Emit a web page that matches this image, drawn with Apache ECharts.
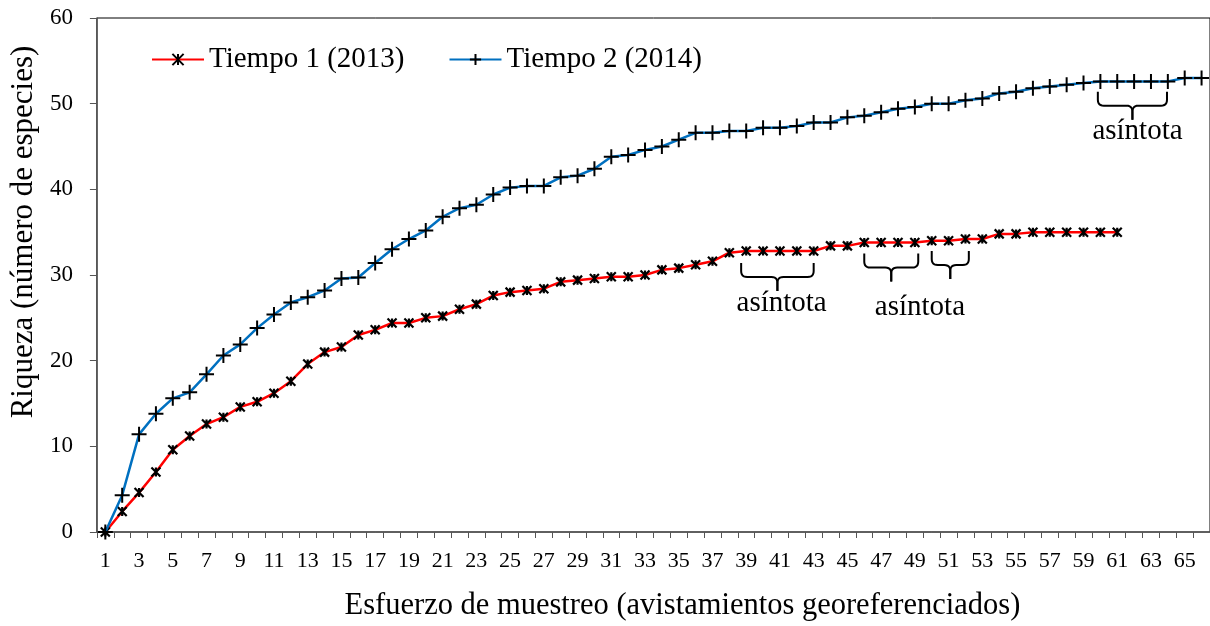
<!DOCTYPE html>
<html>
<head>
<meta charset="utf-8">
<script src="https://cdn.jsdelivr.net/npm/echarts@6/dist/echarts.min.js"></script>
<style>
  html, body { margin: 0; padding: 0; background: #fff; }
  #chart { width: 1210px; height: 626px; }
</style>
</head>
<body>
<div id="chart"></div>
<script>
  // sampling effort 1..66
  const categories = Array.from({length: 66}, (_, i) => String(i + 1));

  const tiempo1 = [
    0, 2.4, 4.6, 7.0, 9.6, 11.2, 12.6, 13.4, 14.6, 15.2,
    16.2, 17.6, 19.6, 21.0, 21.6, 23.0, 23.6, 24.4, 24.4, 25.0,
    25.2, 26.0, 26.6, 27.6, 28.0, 28.2, 28.4, 29.2, 29.4, 29.6,
    29.8, 29.8, 30.0, 30.6, 30.8, 31.2, 31.6, 32.6, 32.8, 32.8,
    32.8, 32.8, 32.8, 33.4, 33.4, 33.8, 33.8, 33.8, 33.8, 34.0,
    34.0, 34.2, 34.2, 34.8, 34.8, 35.0, 35.0, 35.0, 35.0, 35.0,
    35.0
  ];

  const tiempo2 = [
    0, 4.3, 11.4, 13.8, 15.6, 16.3, 18.4, 20.6, 21.9, 23.8,
    25.4, 26.8, 27.4, 28.2, 29.6, 29.7, 31.4, 33.0, 34.2, 35.2,
    36.8, 37.8, 38.2, 39.4, 40.2, 40.4, 40.4, 41.4, 41.6, 42.4,
    43.8, 44.0, 44.6, 45.0, 45.8, 46.6, 46.6, 46.8, 46.8, 47.2,
    47.2, 47.4, 47.8, 47.8, 48.4, 48.6, 49.0, 49.4, 49.6, 50.0,
    50.0, 50.4, 50.6, 51.2, 51.4, 51.8, 52.0, 52.2, 52.4, 52.6,
    52.6, 52.6, 52.6, 52.6, 53.0, 53.0
  ];

  // brace spans: [from index, to index, top value]
  const braces = [
    [37.7, 42.0, 31.4],
    [45.0, 48.2, 32.5],
    [49.0, 51.2, 32.8],
    [58.85, 62.95, 51.4]
  ];
  // "asíntota" labels: [index, value]
  const notes = [
    [40.1, 26.7],
    [48.3, 26.2],
    [61.2, 46.8]
  ];

  const serif = '"Liberation Serif", "Times New Roman", serif';
  const starSymbol = 'path://M0,0L10,10M10,0L0,10M5,0L5,10';
  const plusSymbol = 'path://M5,0L5,10M0,5L10,5';

  const chart = echarts.init(document.getElementById('chart'));

  chart.setOption({
    animation: false,
    textStyle: { fontFamily: serif, color: '#000' },
    grid: {
      left: 96,
      right: -3,
      top: 18,
      bottom: 94,
      show: true,
      borderColor: '#000',
      borderWidth: 1
    },
    legend: {
      left: 146,
      top: 40,
      itemWidth: 52,
      itemHeight: 14,
      itemGap: 44,
      textStyle: { fontFamily: serif, fontSize: 29, color: '#000' },
      data: ['Tiempo 1 (2013)', 'Tiempo 2 (2014)']
    },
    xAxis: {
      type: 'category',
      data: categories,
      boundaryGap: true,
      name: 'Esfuerzo de muestreo (avistamientos georeferenciados)',
      nameLocation: 'middle',
      nameGap: 58,
      nameTextStyle: { fontFamily: serif, fontSize: 30.5, color: '#000', padding: [0, 0, 0, 58] },
      axisLine: { lineStyle: { color: '#555', width: 1.5 } },
      axisTick: { show: true, interval: 0, length: 6, lineStyle: { color: '#555' } },
      axisLabel: { interval: 1, margin: 18, fontFamily: serif, fontSize: 22, color: '#000' },
      splitLine: { show: false }
    },
    yAxis: {
      type: 'value',
      min: 0,
      max: 60,
      interval: 10,
      name: 'Riqueza (número de especies)',
      nameLocation: 'middle',
      nameGap: 46,
      nameTextStyle: { fontFamily: serif, fontSize: 31, color: '#000', padding: [0, 0, 0, 86] },
      axisLine: { show: true, lineStyle: { color: '#555', width: 1.5 } },
      axisTick: { show: true, length: 7, lineStyle: { color: '#555' } },
      axisLabel: { margin: 24, fontFamily: serif, fontSize: 23, color: '#000' },
      splitLine: { show: false }
    },
    series: [
      {
        name: 'Tiempo 1 (2013)',
        type: 'line',
        data: tiempo1,
        symbol: starSymbol,
        symbolSize: 9,
        showAllSymbol: true,
        lineStyle: { color: '#ff0000', width: 2.5 },
        itemStyle: { color: '#000', borderColor: '#000', borderWidth: 2.2 },
        z: 3
      },
      {
        name: 'Tiempo 2 (2014)',
        type: 'line',
        data: tiempo2,
        symbol: plusSymbol,
        symbolSize: 15,
        showAllSymbol: true,
        lineStyle: { color: '#0070c0', width: 2.5 },
        itemStyle: { color: '#000', borderColor: '#000', borderWidth: 2 },
        z: 4
      }
    ]
  });

  // annotations placed through the chart's own scales
  function toPx(idx, val) {
    const a = chart.convertToPixel({gridIndex: 0}, [0, val]);
    const b = chart.convertToPixel({gridIndex: 0}, [1, val]);
    return [a[0] + idx * (b[0] - a[0]), a[1]];
  }

  // sample a quadratic curve into points
  function quad(p0, c, p1, n) {
    const pts = [];
    for (let i = 0; i <= n; i++) {
      const t = i / n;
      const u = 1 - t;
      pts.push([
        u * u * p0[0] + 2 * u * t * c[0] + t * t * p1[0],
        u * u * p0[1] + 2 * u * t * c[1] + t * t * p1[1]
      ]);
    }
    return pts;
  }

  const graphics = [];
  braces.forEach(([from, to, top]) => {
    const x1 = toPx(from, top)[0];
    const x2 = toPx(to, top)[0];
    const y0 = toPx(from, top)[1];
    const xm = (x1 + x2) / 2;
    const h = 14, r = 6;
    [[x1, 1], [x2, -1]].forEach(([xe, s]) => {
      const pts = [[xe, y0]]
        .concat(quad([xe, y0 + h - r], [xe, y0 + h], [xe + s * r, y0 + h], 6))
        .concat(quad([xm - s * r, y0 + h], [xm, y0 + h], [xm, y0 + h + r], 6))
        .concat([[xm, y0 + 2 * h]]);
      graphics.push({
        type: 'polyline',
        shape: { points: pts },
        style: { fill: null, stroke: '#000', lineWidth: 2 },
        z: 10
      });
    });
  });
  notes.forEach(([idx, val]) => {
    const p = toPx(idx, val);
    graphics.push({
      type: 'text',
      x: p[0],
      y: p[1],
      style: {
        text: 'asíntota',
        font: '29px ' + serif,
        fill: '#000',
        align: 'center',
        verticalAlign: 'middle'
      },
      z: 10
    });
  });
  chart.setOption({ graphic: graphics });
</script>
</body>
</html>
